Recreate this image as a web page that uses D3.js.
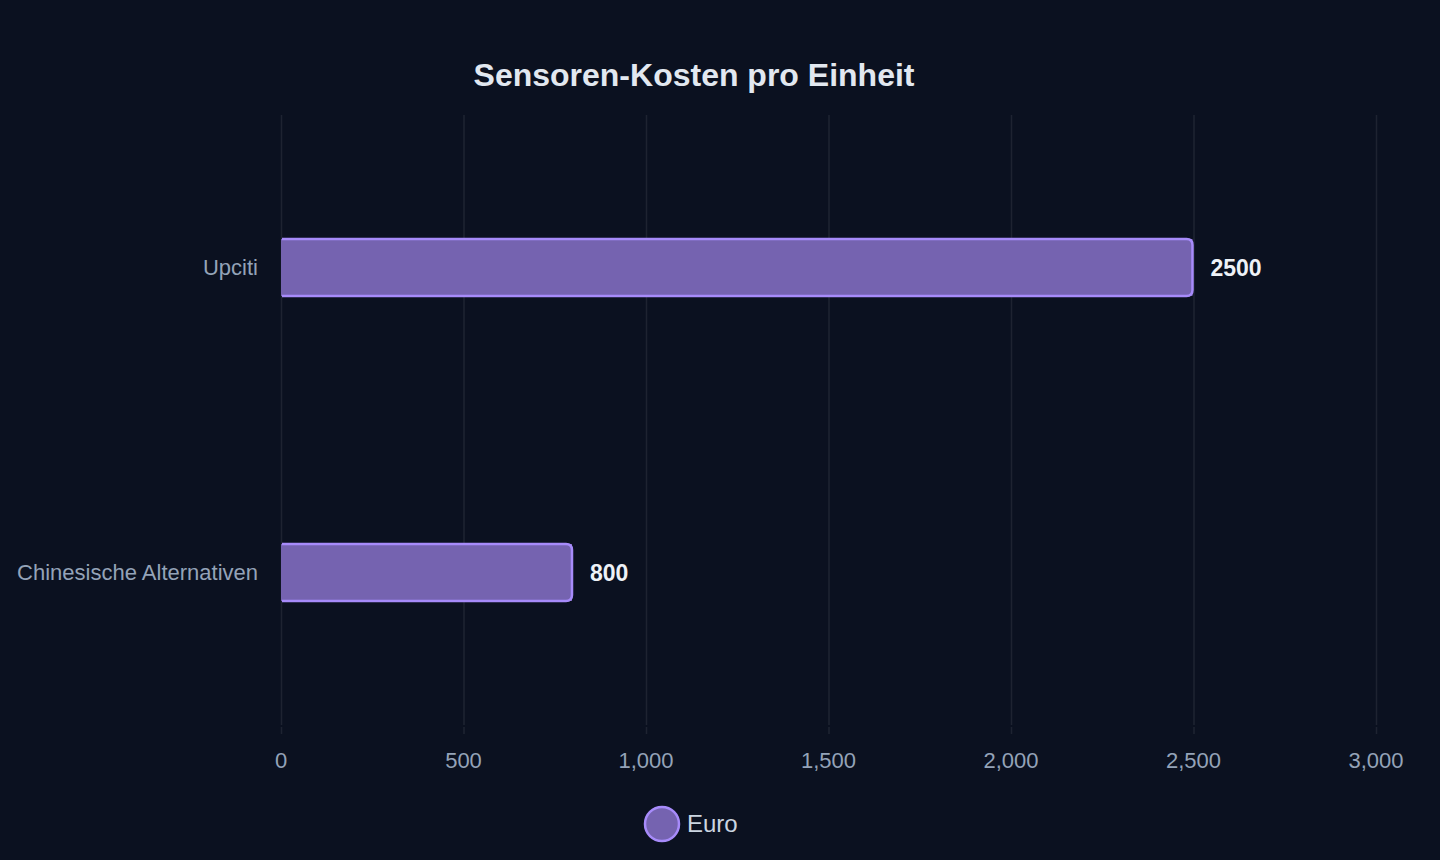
<!DOCTYPE html>
<html>
<head>
<meta charset="utf-8">
<script src="https://cdn.jsdelivr.net/npm/d3@7"></script>
<style>
  html, body { margin: 0; padding: 0; background: #0b1120; }
  svg { display: block; font-family: "Liberation Sans", Arial, sans-serif; }
</style>
</head>
<body>
<svg id="chart" width="1440" height="860"></svg>
<script>
var categories = ["Upciti", "Chinesische Alternativen"];
var euroValues = [2500, 800];
var xTicks = [0, 500, 1000, 1500, 2000, 2500, 3000];
var seriesName = "Euro";
var chartTitle = "Sensoren-Kosten pro Einheit";

var svg = d3.select("#chart"),
    width = +svg.attr("width"),
    height = +svg.attr("height");

var margin = {left: 281, right: 64, top: 115, bottom: 135};

var x = d3.scaleLinear()
    .domain([0, 3000])
    .range([margin.left, width - margin.right]);

var y = d3.scaleBand()
    .domain(categories)
    .range([margin.top, height - margin.bottom]);

var barH = 57;
var barFill = "rgb(117,99,176)";

svg.append("rect").attr("width", width).attr("height", height).attr("fill", "#0b1120");

// title
svg.append("text")
    .attr("x", 694).attr("y", 86)
    .attr("text-anchor", "middle")
    .attr("fill", "#e2e8f0")
    .style("font-size", "32px")
    .style("font-weight", "bold")
    .text(chartTitle);

// grid
var grid = svg.append("g").attr("class", "grid");
grid.selectAll("line.g")
    .data(xTicks)
    .enter().append("line")
    .attr("x1", function(d) { return x(d) + 0.5; })
    .attr("x2", function(d) { return x(d) + 0.5; })
    .attr("y1", margin.top)
    .attr("y2", height - margin.bottom)
    .attr("stroke", "rgba(255,255,255,0.08)")
    .attr("stroke-width", 1.5);

grid.selectAll("line.t")
    .data(xTicks)
    .enter().append("line")
    .attr("x1", function(d) { return x(d) + 0.5; })
    .attr("x2", function(d) { return x(d) + 0.5; })
    .attr("y1", height - margin.bottom + 2)
    .attr("y2", height - margin.bottom + 9)
    .attr("stroke", "rgba(255,255,255,0.08)")
    .attr("stroke-width", 1.5);

// x axis labels
var fmt = d3.format(",");
svg.append("g").selectAll("text")
    .data(xTicks)
    .enter().append("text")
    .attr("x", function(d) { return x(d); })
    .attr("y", 768)
    .attr("text-anchor", "middle")
    .attr("fill", "#94a3b8")
    .style("font-size", "22px")
    .text(function(d) { return fmt(d); });

// y axis labels
svg.append("g").selectAll("text")
    .data(categories)
    .enter().append("text")
    .attr("x", 258)
    .attr("y", function(d) { return y(d) + y.bandwidth() / 2 + 7; })
    .attr("text-anchor", "end")
    .attr("fill", "#94a3b8")
    .style("font-size", "22px")
    .text(function(d) { return d; });

// bars: rounded right end, no border on left edge
function barPath(x0, x1, y0, h, r) {
    return "M" + x0 + "," + y0 +
        "L" + (x1 - r) + "," + y0 +
        "Q" + x1 + "," + y0 + " " + x1 + "," + (y0 + r) +
        "L" + x1 + "," + (y0 + h - r) +
        "Q" + x1 + "," + (y0 + h) + " " + (x1 - r) + "," + (y0 + h) +
        "L" + x0 + "," + (y0 + h);
}

var bars = svg.append("g").selectAll("g")
    .data(categories.map(function(c, i) { return {cat: c, value: euroValues[i]}; }))
    .enter().append("g");

bars.append("rect")
    .attr("x", x(0))
    .attr("y", function(d) { return y(d.cat) + y.bandwidth() / 2 - barH / 2; })
    .attr("width", function(d) { return x(d.value) - x(0) - 1; })
    .attr("height", barH)
    .attr("fill", barFill);

bars.append("path")
    .attr("d", function(d) {
        return barPath(x(0) + 1, x(d.value) - 1, y(d.cat) + y.bandwidth() / 2 - barH / 2, barH, 6);
    })
    .attr("fill", "none")
    .attr("stroke", "#a78bfa")
    .attr("stroke-width", 2.5);

bars.append("text")
    .attr("x", function(d) { return x(d.value) + 17; })
    .attr("y", function(d) { return y(d.cat) + y.bandwidth() / 2 + 8; })
    .attr("fill", "#eef2f7")
    .style("font-size", "23px")
    .style("font-weight", "bold")
    .text(function(d) { return d.value; });

// legend
var legend = svg.append("g").attr("transform", "translate(662,824)");
legend.append("circle")
    .attr("r", 17)
    .attr("fill", barFill)
    .attr("stroke", "#a78bfa")
    .attr("stroke-width", 2.5);
legend.append("text")
    .attr("x", 25).attr("y", 8)
    .attr("fill", "#cbd5e1")
    .style("font-size", "24px")
    .text(seriesName);
</script>
</body>
</html>
